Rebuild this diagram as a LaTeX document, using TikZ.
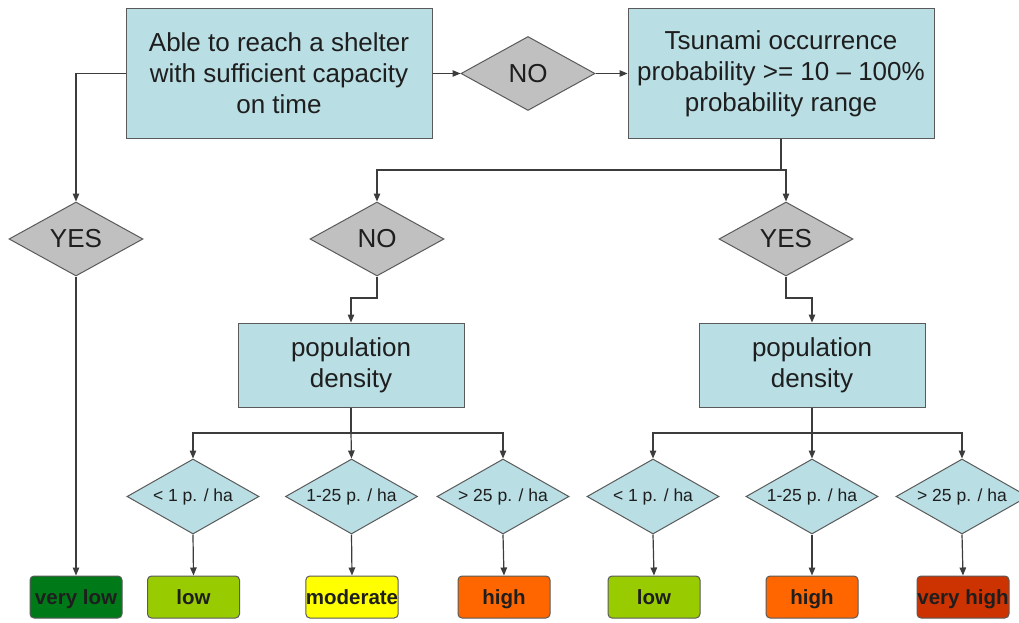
\documentclass[tikz,border=0pt]{standalone}
\usepackage{fontspec}
\setmainfont{Liberation Sans}
\usetikzlibrary{shapes.geometric,arrows.meta}
\definecolor{boxblue}{RGB}{185,222,228}
\definecolor{dgray}{RGB}{192,192,192}
\definecolor{edgec}{RGB}{90,90,90}
\definecolor{linec}{RGB}{60,60,60}
\definecolor{textc}{RGB}{30,30,30}
\definecolor{cvlow}{RGB}{0,122,24}
\definecolor{clow}{RGB}{153,204,0}
\definecolor{cmod}{RGB}{255,255,0}
\definecolor{chigh}{RGB}{255,102,0}
\definecolor{cvhigh}{RGB}{204,51,0}
\tikzset{
  bigbox/.style={draw=edgec, line width=1pt, fill=boxblue, text=textc, minimum width=306pt, minimum height=129pt, align=center, inner sep=0pt, font=\fontsize{26}{31}\selectfont},
  pdbox/.style={draw=edgec, line width=1pt, fill=boxblue, text=textc, minimum width=226pt, minimum height=84pt, align=center, inner sep=0pt, font=\fontsize{26}{31}\selectfont},
  bigdia/.style={diamond, draw=edgec, line width=1pt, fill=dgray, text=textc, aspect=1.8, inner sep=0pt, minimum width=134pt, minimum height=74pt, font=\fontsize{26}{31}\selectfont},
  smalldia/.style={diamond, draw=edgec, line width=1pt, fill=boxblue, text=textc, aspect=1.76, inner sep=0pt, minimum width=132pt, minimum height=75pt, font=\fontsize{17.5}{20}\selectfont},
  resbox/.style={draw=edgec, line width=1pt, rounded corners=4pt, text=textc, minimum width=92pt, minimum height=42pt, inner sep=0pt, text height=18pt, text depth=3pt, font=\fontsize{20.5}{24}\selectfont\bfseries},
  conn/.style={draw=linec, line width=1.2pt},
  arr/.style={conn, -{Triangle[length=8pt,width=6.5pt]}}
}
\begin{document}
\begin{tikzpicture}[x=1pt,y=-1pt]
\useasboundingbox[fill=white] (0,0) rectangle (1019,623);
% top row
\node[bigbox] (b1) at (279,73.5) {Able to reach a shelter\\with sufficient capacity\\on time};
\node[bigdia] (no1) at (528,73.5) {NO};
\node[bigbox] (b2) at (781,73.5) {Tsunami occurrence\\probability >= 10 – 100\%\\probability range};
% second row
\node[bigdia] (y1) at (76,239) {YES};
\node[bigdia] (no2) at (377,239) {NO};
\node[bigdia] (y2) at (786,239) {YES};
% population density
\node[pdbox] (pd1) at (351,365) {population\\density};
\node[pdbox] (pd2) at (812,365) {population\\density};
% small diamonds
\node[smalldia] (d1) at (193,496.5) {< 1 p. / ha};
\node[smalldia] (d2) at (351.5,496.5) {1-25 p. / ha};
\node[smalldia] (d3) at (503,496.5) {> 25 p. / ha};
\node[smalldia] (d4) at (653,496.5) {< 1 p. / ha};
\node[smalldia] (d5) at (812,496.5) {1-25 p. / ha};
\node[smalldia] (d6) at (962,496.5) {> 25 p. / ha};
% results
\node[resbox, fill=cvlow] (r0) at (76,597) {very low};
\node[resbox, fill=clow] (r1) at (193.5,597) {low};
\node[resbox, fill=cmod] (r2) at (352,597) {moderate};
\node[resbox, fill=chigh] (r3) at (504,597) {high};
\node[resbox, fill=clow] (r4) at (654,597) {low};
\node[resbox, fill=chigh] (r5) at (812,597) {high};
\node[resbox, fill=cvhigh] (r6) at (963,597) {very high};
% coordinates
\coordinate (j1) at (781,170);
\coordinate (k1) at (377,298);
\coordinate (k2) at (786,298);
\coordinate (j2) at (351,433);
\coordinate (j3) at (812,433);
% connectors
\draw[arr] (b1.west) -| (y1.north);
\draw[arr] (b1.east) -- (no1.west);
\draw[arr] (no1.east) -- (b2.west);
\draw[conn] (b2.south) -- (j1);
\draw[arr] (j1) -| (no2.north);
\draw[arr] (j1) -| (y2.north);
\draw[arr] (y1.south) -- (r0.north);
\draw[arr] (no2.south) -- (k1) -| (pd1.north);
\draw[arr] (y2.south) -- (k2) -| (pd2.north);
\draw[conn] (pd1.south) -- (j2);
\draw[arr] (j2) -| (d1.north);
\draw[arr] (j2) -- (d2.north);
\draw[arr] (j2) -| (d3.north);
\draw[conn] (pd2.south) -- (j3);
\draw[arr] (j3) -| (d4.north);
\draw[arr] (j3) -- (d5.north);
\draw[arr] (j3) -| (d6.north);
\draw[arr] (d1.south) -- (r1.north);
\draw[arr] (d2.south) -- (r2.north);
\draw[arr] (d3.south) -- (r3.north);
\draw[arr] (d4.south) -- (r4.north);
\draw[arr] (d5.south) -- (r5.north);
\draw[arr] (d6.south) -- (r6.north);
\end{tikzpicture}
\end{document}
